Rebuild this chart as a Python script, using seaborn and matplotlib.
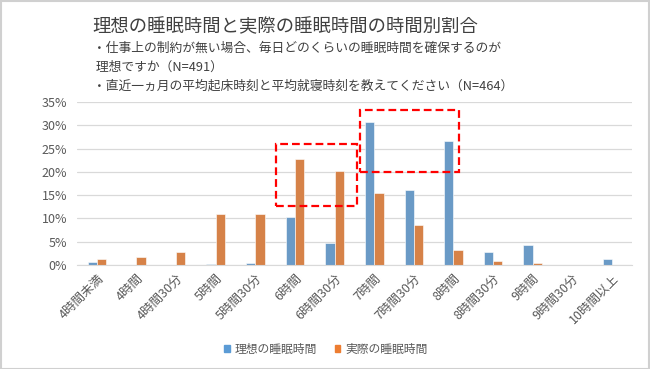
import pandas as pd
import seaborn as sns
import matplotlib.pyplot as plt
from matplotlib.patches import Rectangle

categories = ['4時間未満', '4時間', '4時間30分', '5時間', '5時間30分', '6時間', '6時間30分',
              '7時間', '7時間30分', '8時間', '8時間30分', '9時間', '9時間30分', '10時間以上']
ideal = [0.7, 0.1, 0.1, 0.3, 0.5, 10.3, 4.8, 30.7, 16.0, 26.6, 2.8, 4.4, 0.1, 1.3]
actual = [1.2, 1.7, 2.7, 10.9, 10.9, 22.8, 20.2, 15.4, 8.5, 3.2, 0.9, 0.5, 0.0, 0.0]
series = ['理想の睡眠時間', '実際の睡眠時間']
colors = ['#5B9BD5', '#ED7D31']

title = '理想の睡眠時間と実際の睡眠時間の時間別割合'
notes = ['・仕事上の制約が無い場合、毎日どのくらいの睡眠時間を確保するのが',
         ' 理想ですか（N=491）',
         '・直近一ヵ月の平均起床時刻と平均就寝時刻を教えてください（N=464）']

# highlight boxes: (x0, x1, y0, y1) in category index / percent units
boxes = [(4.52, 6.56, 12.7, 26.0), (6.65, 9.15, 20.0, 33.3)]

df = pd.DataFrame({'cat': categories * 2,
                   'series': [series[0]] * len(categories) + [series[1]] * len(categories),
                   'value': ideal + actual})

sns.set_style('white')
plt.rcParams['font.family'] = ['Noto Sans CJK JP', 'DejaVu Sans']

fig = plt.figure(figsize=(6.5, 3.69), dpi=100)
ax = fig.add_axes([0.1185, 0.2818, 0.8535, 0.4418])

sns.barplot(data=df, x='cat', y='value', hue='series', palette=colors, width=0.47, gap=0,
            ax=ax, edgecolor='white', linewidth=0.4, legend=False)

ax.set_ylim(0, 35)
ax.set_xlim(-0.5, len(categories) - 0.5)
ax.set_yticks(range(0, 36, 5))
ax.set_yticklabels([f'{v}%' for v in range(0, 36, 5)])
ax.yaxis.grid(True, color='#d9d9d9', linewidth=0.9)
ax.set_axisbelow(True)
for s in ['top', 'right', 'left']:
    ax.spines[s].set_visible(False)
ax.spines['bottom'].set_color('#d9d9d9')
ax.set_xlabel('')
ax.set_ylabel('')
ax.tick_params(axis='both', length=0, colors='#595959', labelsize=9)
ax.tick_params(axis='y', pad=7)
ax.tick_params(axis='x', pad=5)
plt.setp(ax.get_xticklabels(), rotation=45, ha='right', rotation_mode='anchor')

for x0, x1, y0, y1 in boxes:
    ax.add_patch(Rectangle((x0, y0), x1 - x0, y1 - y0, fill=False, edgecolor='#ff0000',
                           linewidth=1.6, linestyle=(0, (3.5, 1.8)), zorder=5))

fig.text(0.142, 0.925, title, fontsize=13.2, color='#404040', va='center')
for i, line in enumerate(notes):
    fig.text(0.143, 0.868 - i * 0.05, line, fontsize=9.2, color='#404040', va='center')

handles = [Rectangle((0, 0), 1, 1, color=c) for c in colors]
fig.legend(handles, series, loc='center', bbox_to_anchor=(0.501, 0.054), ncol=2, frameon=False,
           fontsize=8.5, labelcolor='#595959', handlelength=0.5, handleheight=0.5,
           handletextpad=0.4, columnspacing=1.5)

fig.patches.append(Rectangle((0.001, 0.001), 0.997, 0.997, transform=fig.transFigure,
                             fill=False, edgecolor='#d0d0d0', linewidth=1.5))

fig.savefig('out.png', dpi=100)
